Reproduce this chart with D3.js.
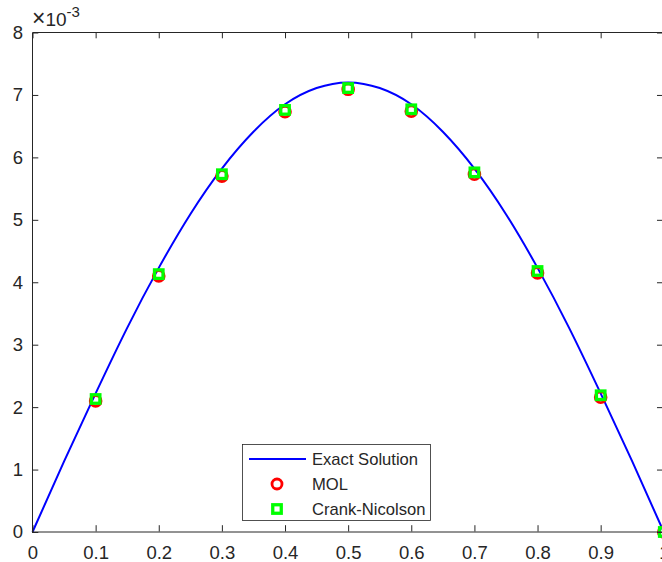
<!DOCTYPE html>
<html>
<head>
<meta charset="utf-8">
<script src="https://cdn.jsdelivr.net/npm/d3@7"></script>
<style>
  body { margin: 0; background: #fff; }
  svg { display: block; font-family: "Liberation Sans", Arial, sans-serif; }
</style>
</head>
<body>
<svg id="chart" width="662" height="562"></svg>
<script>
// values (y in units of 1e-3)
var xTicks = [0, 0.1, 0.2, 0.3, 0.4, 0.5, 0.6, 0.7, 0.8, 0.9, 1];
var yTicks = [0, 1, 2, 3, 4, 5, 6, 7, 8];

var exactX = [0, 0.05, 0.1, 0.15, 0.2, 0.25, 0.3, 0.35, 0.4, 0.45, 0.5,
              0.55, 0.6, 0.65, 0.7, 0.75, 0.8, 0.85, 0.9, 0.95, 1];
var exactY = [0, 1.13, 2.22, 3.27, 4.23, 5.09, 5.82, 6.41, 6.85, 7.11, 7.2,
              7.11, 6.85, 6.41, 5.82, 5.09, 4.23, 3.27, 2.22, 1.13, 0];

var nodeX = [0.1, 0.2, 0.3, 0.4, 0.5, 0.6, 0.7, 0.8, 0.9, 1];
var molY = [2.10, 4.10, 5.70, 6.73, 7.09, 6.74, 5.73, 4.15, 2.16, 0];
var cnY  = [2.13, 4.13, 5.73, 6.76, 7.11, 6.77, 5.76, 4.18, 2.19, 0];

var legendLabels = ["Exact Solution", "MOL", "Crank-Nicolson"];

var axisColor = "#262626";
var plotL = 32.5, plotR = 663.8, plotT = 32.5, plotB = 532;

var svg = d3.select("#chart");

var x = d3.scaleLinear().domain([0, 1]).range([plotL, plotR]);
var y = d3.scaleLinear().domain([0, 8]).range([plotB, plotT]);

// curve
var line = d3.line()
  .x(function(d, i) { return x(exactX[i]); })
  .y(function(d) { return y(d); })
  .curve(d3.curveNatural);

svg.append("path")
  .datum(exactY)
  .attr("d", line)
  .attr("fill", "none")
  .attr("stroke", "#0000ff")
  .attr("stroke-width", 2);

// MOL circles
var cr = 5.4;
svg.selectAll("circle.mol")
  .data(molY)
  .enter()
  .append("circle")
  .attr("class", "mol")
  .attr("cx", function(d, i) { return x(nodeX[i]); })
  .attr("cy", function(d) { return y(d); })
  .attr("r", cr)
  .attr("fill", "none")
  .attr("stroke", "#ff0000")
  .attr("stroke-width", 2.8);

// Crank-Nicolson squares
var sq = 8.5;
svg.selectAll("rect.cn")
  .data(cnY)
  .enter()
  .append("rect")
  .attr("class", "cn")
  .attr("x", function(d, i) { return x(nodeX[i]) - sq / 2; })
  .attr("y", function(d) { return y(d) - sq / 2; })
  .attr("width", sq)
  .attr("height", sq)
  .attr("fill", "none")
  .attr("stroke", "#00ff00")
  .attr("stroke-width", 3.3);

// axes (ticks inward, box all round)
var tl = 6.3;
function styleAxis(g) {
  g.selectAll("path, line").attr("stroke", axisColor);
  g.selectAll("text").attr("fill", axisColor).attr("font-size", "18.5px")
    .attr("font-family", "'Liberation Sans', Arial, sans-serif");
}

svg.append("g")
  .attr("transform", "translate(0," + (plotB - 0.5) + ")")
  .call(d3.axisBottom(x).tickValues(xTicks).tickFormat(d3.format("~g"))
    .tickSizeInner(-tl).tickSizeOuter(0).tickPadding(14))
  .call(styleAxis);

svg.append("g")
  .attr("transform", "translate(0," + (plotT - 0.5) + ")")
  .call(d3.axisTop(x).tickValues(xTicks).tickFormat("")
    .tickSizeInner(-tl).tickSizeOuter(0))
  .call(styleAxis);

svg.append("g")
  .attr("transform", "translate(" + (plotL - 0.5) + ",0)")
  .call(d3.axisLeft(y).tickValues(yTicks).tickFormat(d3.format("d"))
    .tickSizeInner(-tl).tickSizeOuter(0).tickPadding(9))
  .call(styleAxis);

svg.append("g")
  .attr("transform", "translate(" + (plotR - 0.5) + ",0)")
  .call(d3.axisRight(y).tickValues(yTicks).tickFormat("")
    .tickSizeInner(-tl).tickSizeOuter(0))
  .call(styleAxis);

// exponent label
var expo = svg.append("text")
  .attr("x", 32)
  .attr("y", 26)
  .attr("fill", axisColor)
  .attr("font-size", "19px");
expo.append("tspan").attr("font-size", "23px").text("\u00d7");
expo.append("tspan").text("10");
expo.append("tspan").attr("dy", -9).attr("font-size", "15px").text("-3");

// legend
var lg = svg.append("g");
lg.append("rect")
  .attr("x", 242.5).attr("y", 444.5)
  .attr("width", 188).attr("height", 76)
  .attr("fill", "#fff")
  .attr("stroke", axisColor)
  .attr("stroke-width", 0.8);

var rowY = [459, 484, 509];
lg.append("line")
  .attr("x1", 249).attr("x2", 306)
  .attr("y1", rowY[0]).attr("y2", rowY[0])
  .attr("stroke", "#0000ff").attr("stroke-width", 2);
lg.append("circle")
  .attr("cx", 277).attr("cy", rowY[1]).attr("r", 5)
  .attr("fill", "none").attr("stroke", "#ff0000").attr("stroke-width", 2.8);
lg.append("rect")
  .attr("x", 277 - sq / 2).attr("y", rowY[2] - sq / 2)
  .attr("width", sq).attr("height", sq)
  .attr("fill", "none").attr("stroke", "#00ff00").attr("stroke-width", 3.3);

lg.selectAll("text")
  .data(legendLabels)
  .enter()
  .append("text")
  .attr("x", 312)
  .attr("y", function(d, i) { return rowY[i]; })
  .attr("dy", "0.35em")
  .attr("fill", axisColor)
  .attr("font-size", "16.6px")
  .text(function(d) { return d; });
</script>
</body>
</html>
